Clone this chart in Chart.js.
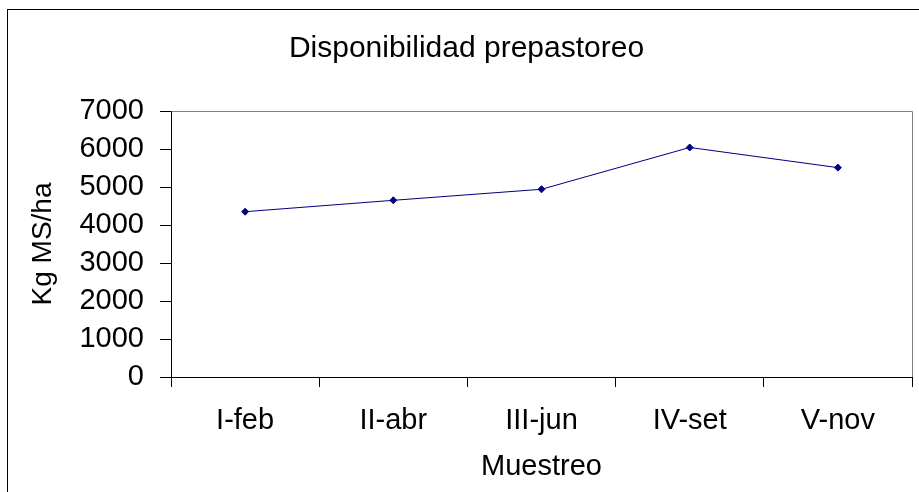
<!DOCTYPE html>
<html>
<head>
<meta charset="utf-8">
<script src="https://cdn.jsdelivr.net/npm/chart.js@4"></script>
<style>
  html, body { margin: 0; padding: 0; background: #fff; }
  #wrap { width: 919px; height: 492px; position: relative; }
</style>
</head>
<body>
<div id="wrap"><canvas id="chart" width="919" height="492"></canvas></div>
<script>
// -------------------- DATA --------------------
const categories = ["I-feb", "II-abr", "III-jun", "IV-set", "V-nov"];
const disponibilidad = [4350, 4650, 4940, 6040, 5510];
const yTicks = [0, 1000, 2000, 3000, 4000, 5000, 6000, 7000];

const FONT = "'Liberation Sans', Arial, sans-serif";

// outer frame of the chart object, like the pasted Excel chart
const frame = {
  id: "frame",
  beforeDraw(chart) {
    const ctx = chart.ctx;
    ctx.save();
    ctx.fillStyle = "#fff";
    ctx.fillRect(0, 0, chart.width, chart.height);
    ctx.strokeStyle = "#000";
    ctx.lineWidth = 1;
    ctx.strokeRect(7.5, 9.5, 1000, 1000);
    ctx.restore();
  },
  beforeDatasetsDraw(chart) {
    // grey top and right edges of the plot area
    const { top, right, bottom, left } = chart.chartArea;
    const ctx = chart.ctx;
    ctx.save();
    ctx.strokeStyle = "#808080";
    ctx.lineWidth = 1;
    ctx.beginPath();
    ctx.moveTo(Math.round(left) + 0.5, Math.round(top) + 0.5);
    ctx.lineTo(Math.round(right) + 0.5, Math.round(top) + 0.5);
    ctx.lineTo(Math.round(right) + 0.5, Math.round(bottom));
    ctx.stroke();
    ctx.restore();
  },
};

new Chart(document.getElementById("chart"), {
  type: "line",
  data: {
    labels: categories,
    datasets: [{
      label: "Disponibilidad prepastoreo",
      data: disponibilidad,
      borderColor: "#000080",
      backgroundColor: "#000080",
      borderWidth: 1,
      pointStyle: "rectRot",
      pointRadius: 3.5,
      pointBorderWidth: 1,
      tension: 0,
    }],
  },
  options: {
    responsive: false,
    animation: false,
    layout: { padding: { left: 21, right: 7, top: 0, bottom: 0 } },
    plugins: {
      legend: { display: false },
      tooltip: { enabled: false },
      title: {
        display: true,
        text: "Disponibilidad prepastoreo",
        color: "#000",
        font: { family: FONT, size: 30, weight: "normal", lineHeight: 1.2 },
        padding: { top: 31, bottom: 44 },
      },
    },
    scales: {
      x: {
        type: "category",
        offset: true,
        grid: { offset: true, drawOnChartArea: false, drawTicks: true, tickLength: 10, color: "#000" },
        border: { display: true, color: "#000", width: 1 },
        ticks: { color: "#000", padding: 17, font: { family: FONT, size: 29 } },
        title: {
          display: true,
          text: "Muestreo",
          color: "#000",
          font: { family: FONT, size: 29, lineHeight: 1.2 },
          padding: { top: 10, bottom: 8 },
        },
        afterFit: (s) => { s.height = 115; },
      },
      y: {
        min: 0,
        max: 7000,
        afterBuildTicks: (s) => { s.ticks = yTicks.map((v) => ({ value: v })); },
        grid: { drawOnChartArea: false, drawTicks: true, tickLength: 11, color: "#000" },
        border: { display: true, color: "#000", width: 1 },
        ticks: {
          color: "#000",
          padding: 16,
          font: { family: FONT, size: 29 },
          callback: (v) => String(v),
        },
        title: {
          display: true,
          text: "Kg MS/ha",
          color: "#000",
          font: { family: FONT, size: 28, lineHeight: 1.2 },
          padding: { top: 5, bottom: 10 },
        },
        afterFit: (s) => { s.width = 150; },
      },
    },
  },
  plugins: [frame],
});
</script>
</body>
</html>
